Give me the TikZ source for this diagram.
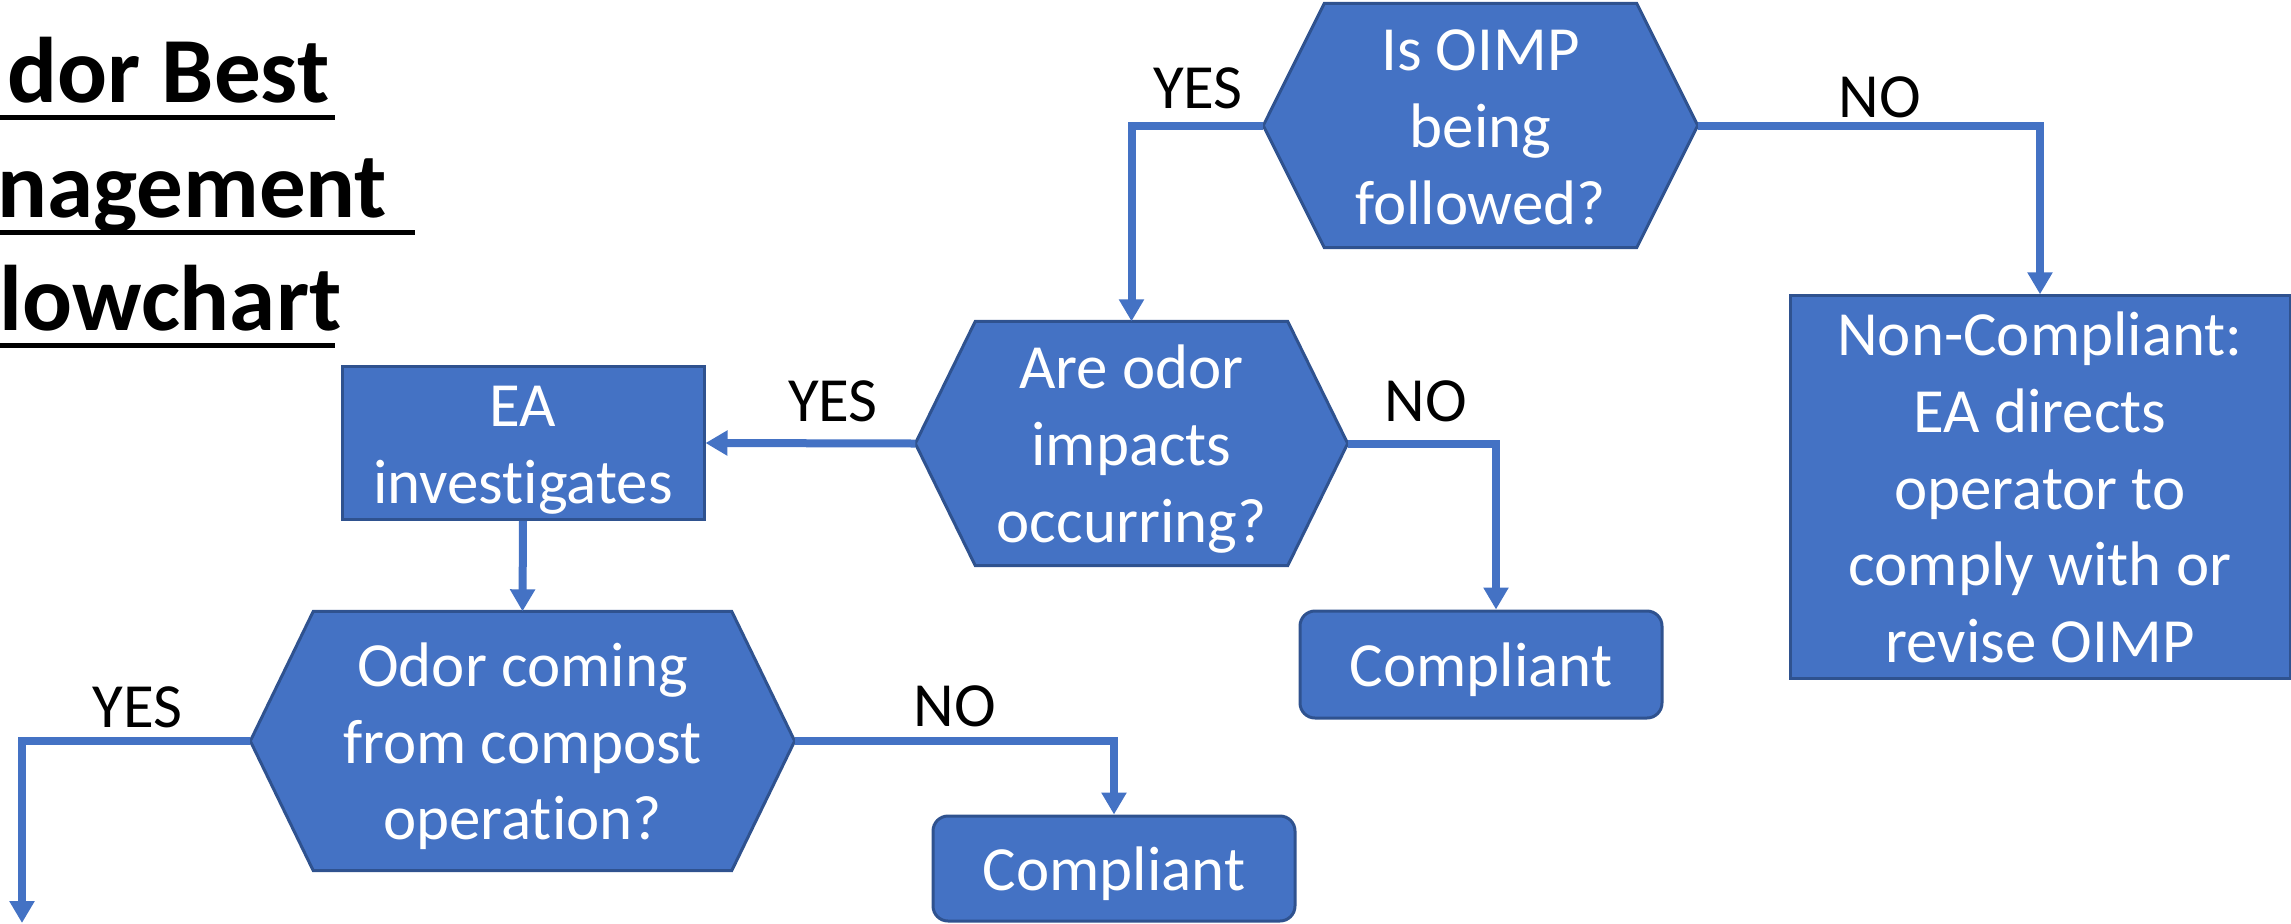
\documentclass[tikz,border=0pt]{standalone}
\usepackage{fontspec}
\setmainfont{Carlito}[Ligatures=NoCommon]
\usetikzlibrary{arrows.meta,backgrounds}
\definecolor{boxblue}{HTML}{4472C4}
\definecolor{boxedge}{HTML}{2F528F}
\newcommand{\lnstrut}{\rule[-0.16cm]{0pt}{0.76cm}}

\begin{document}
\begin{tikzpicture}[
  txt/.style={font=\fontsize{17.9pt}{21.8pt}\selectfont, align=center, inner sep=0pt},
  box/.style={txt, rectangle, draw=boxedge, line width=0.03cm, fill=boxblue, text=white},
  endbox/.style={box, rounded corners=0.15cm},
  hexbox/.style={txt, text=white},
  flow/.style={draw=boxblue, line width=0.08cm, -{Triangle[width=0.24cm,length=0.22cm]}},
  lbl/.style={txt, anchor=base},
  heading/.style={font=\fontsize{26.5pt}{32pt}\selectfont\bfseries, inner sep=0pt, anchor=base east},
  titleline/.style={line width=0.05cm}]
  \useasboundingbox (0,0) rectangle (22.91,-9.23);
  % title
  \node[heading] (head1) at (3.30,-1.02) {dor Best};
  \node[heading] (head2) at (3.88,-2.17) {nagement};
  \node[heading] (head3) at (3.42,-3.30) {lowchart};
  \draw[titleline]([xshift=-0.2cm,yshift=-0.15cm]head1.base west)--([xshift=0.05cm,yshift=-0.15cm]head1.base east);
  \draw[titleline]([xshift=-0.2cm,yshift=-0.15cm]head2.base west)--([xshift=0.27cm,yshift=-0.15cm]head2.base east);
  \draw[titleline]([xshift=-0.2cm,yshift=-0.15cm]head3.base west)--([xshift=-0.07cm,yshift=-0.15cm]head3.base east);
  % decisions
  \node[hexbox, minimum width=4.33cm, minimum height=2.43cm] (oimp) at (14.805,-1.255)
    {\lnstrut Is OIMP\\being\\followed?\lnstrut};
  \node[hexbox, minimum width=4.31cm, minimum height=2.43cm] (impact) at (11.315,-4.435)
    {\lnstrut Are odor\\impacts\\occurring?\lnstrut};
  \node[hexbox, minimum width=5.43cm, minimum height=2.58cm] (source) at (5.225,-7.41)
    {\lnstrut Odor coming\\from compost\\operation?\lnstrut};
  \begin{scope}[on background layer]
    \foreach \h/\c in {oimp/0.61, impact/0.60, source/0.63}
      \filldraw[fill=boxblue, draw=boxedge, line width=0.03cm]
        (\h.west)--([xshift=\c cm]\h.north west)--([xshift=-\c cm]\h.north east)
        --(\h.east)--([xshift=-\c cm]\h.south east)--([xshift=\c cm]\h.south west)--cycle;
  \end{scope}
  % actions and outcomes
  \node[box, minimum width=3.62cm, minimum height=1.50cm] (ea) at (5.23,-4.43)
    {\lnstrut EA\\investigates\lnstrut};
  \node[box, minimum width=5.00cm, minimum height=3.70cm] (noncomp) at (20.40,-4.87)
    {\lnstrut Non-Compliant:\\EA directs\\operator to\\comply with or\\revise OIMP\lnstrut};
  \node[endbox, minimum width=3.62cm, minimum height=1.07cm] (comp1) at (14.81,-6.645)
    {\lnstrut Compliant\lnstrut};
  \node[endbox, minimum width=3.62cm, minimum height=1.05cm] (comp2) at (11.14,-8.685)
    {\lnstrut Compliant\lnstrut};
  \coordinate (exit) at (0.22,-9.23);
  % connectors
  \draw[flow](oimp.west)-|(impact.north);
  \draw[flow](oimp.east)-|(noncomp.north);
  \draw[flow](impact.west)--(ea.east);
  \draw[flow](impact.east)-|([xshift=0.15cm]comp1.north);
  \draw[flow](ea.south)--(source.north);
  \draw[flow](source.west)-|(exit);
  \draw[flow](source.east)-|(comp2.north);
  % branch labels
  \node[lbl] (yes1) at (11.98,-1.08) {YES};
  \node[lbl] (no1) at (18.80,-1.17) {NO};
  \node[lbl] (yes2) at (8.33,-4.21) {YES};
  \node[lbl] (no2) at (14.26,-4.21) {NO};
  \node[lbl] (yes3) at (1.375,-7.27) {YES};
  \node[lbl] (no3) at (9.55,-7.26) {NO};
\end{tikzpicture}
\end{document}
